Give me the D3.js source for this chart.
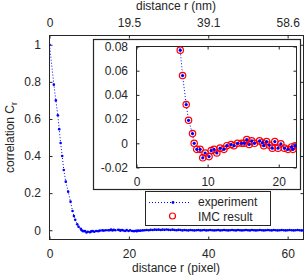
<!DOCTYPE html>
<html>
<head>
<meta charset="utf-8">
<script src="https://cdn.jsdelivr.net/npm/d3@7"></script>
<style>
body { margin: 0; background: #fff; }
svg { font-family: "Liberation Sans", Arial, Helvetica, sans-serif; }
</style>
</head>
<body>
<div id="chart"></div>
<script>
// experiment: correlation vs distance (pixel)
const expR = [0, 1.1, 1.6, 2.1, 2.45, 2.8, 3.2, 3.6, 4.1, 4.7, 5.3, 5.8,
  6.15, 6.48, 6.99, 7.32, 7.88, 8.11, 8.48, 8.95, 9.32, 9.65, 10.2, 10.5, 10.9, 11.3,
  11.75, 12.3, 12.7, 13.3, 13.7, 14.2, 14.8, 15.15, 15.5, 15.85, 16.2, 16.6, 17.3, 17.7,
  17.9, 18.3, 18.65, 19.1, 19.45, 19.9, 20.3, 20.8, 21.3, 21.8, 22.0, 22.3, 22.7,
  23, 23.5, 24, 24.5, 25, 25.5, 26, 26.5, 27, 27.5, 28, 28.5, 29, 29.5, 30, 30.5,
  31, 31.5, 32, 32.5, 33, 33.5, 34, 34.5, 35, 35.5, 36, 36.5, 37, 37.5, 38, 38.5,
  39, 39.5, 40, 40.5, 41, 41.5, 42, 42.5, 43, 43.5, 44, 44.5, 45, 45.5, 46, 46.5,
  47, 47.5, 48, 48.5, 49, 49.5, 50, 50.5, 51, 51.5, 52, 52.5, 53, 53.5, 54, 54.5,
  55, 55.5, 56, 56.5, 57, 57.5, 58, 58.5, 59, 59.5, 60, 60.5, 61, 61.5, 62, 62.5,
  63, 63.5, 64];
const expC = [1.0, 0.785, 0.70, 0.62, 0.545, 0.47, 0.40, 0.325, 0.262, 0.208, 0.154, 0.104,
  0.077, 0.056, 0.032, 0.019, 0.008, 0.000, -0.005, -0.005, -0.012, -0.008, -0.011, -0.006, -0.005, -0.008,
  -0.004, -0.005, -0.002, -0.001, -0.002, 0.000, 0.000, 0.000, 0.003, -0.001, 0.002, 0.000, 0.002, 0.0005,
  -0.002, 0.0015, -0.0015, -0.004, 0.0015, -0.004, -0.0005, -0.004, -0.005, -0.003, -0.005, -0.002, -0.003,
  -0.002, -0.001, 0.000, 0.001, 0.000, 0.002, 0.001, 0.003, 0.002, 0.003, 0.001, 0.003, 0.002, 0.004, 0.002, 0.001,
  0.003, 0.001, 0.000, 0.002, 0.001, -0.001, 0.001, 0.000, -0.001, 0.001, 0.000, -0.001, 0.000, 0.001, -0.001, 0.000,
  0.001, -0.001, 0.000, 0.001, 0.000, -0.001, 0.000, 0.001, -0.001, 0.000, 0.001, 0.000, -0.001, 0.000, 0.001, 0.000,
  -0.001, 0.001, 0.000, -0.001, 0.000, 0.001, 0.000, -0.001, 0.001, 0.000, -0.001, 0.000, 0.001, 0.000, -0.001, 0.000,
  0.001, 0.000, -0.001, 0.001, 0.000, -0.001, 0.000, 0.001, 0.000, -0.001, 0.000, 0.001, 0.000, -0.001, 0.000, 0.001,
  0.000, -0.001, 0.000];

// IMC result (inset only)
const imcR = [6.15, 6.48, 6.99, 7.32, 7.88, 8.11, 8.48, 8.95, 9.32, 9.65, 10.2, 10.5, 10.9, 11.3,
  11.75, 12.3, 12.7, 13.3, 13.7, 14.2, 14.8, 15.15, 15.5, 15.85, 16.2, 16.6, 17.3, 17.7,
  17.9, 18.3, 18.65, 19.1, 19.45, 19.9, 20.3, 20.8, 21.3, 21.8, 22.0, 22.3];
const imcC = [0.077, 0.056, 0.032, 0.019, 0.008, 0.000, -0.005, -0.005, -0.012, -0.008, -0.011, -0.006, -0.005, -0.008,
  -0.004, -0.005, -0.002, -0.001, -0.002, 0.000, 0.000, 0.000, 0.003, -0.001, 0.002, 0.000, 0.002, 0.0005,
  -0.002, 0.0015, -0.0015, -0.004, 0.0015, -0.004, -0.0005, -0.004, -0.005, -0.003, -0.005, -0.002];

const xTicks = [0, 20, 40, 60];
const nmTickLabels = ["0", "19.5", "39.1", "58.6"];
const yTicks = [0, 0.2, 0.4, 0.6, 0.8, 1];
const insetXTicks = [0, 10, 20];
const insetYTicks = [-0.02, 0, 0.02, 0.04, 0.06, 0.08];
const legendLabels = ["experiment", "IMC result"];

const W = 307, H = 279;
const ink = "#262626";
const main = {left: 49.5, right: 303.5, top: 35.5, bottom: 239.5};
const inset = {left: 136.5, right: 296.5, top: 46.5, bottom: 167.5};

const svg = d3.select("#chart").append("svg")
    .attr("width", W)
    .attr("height", H);

const x = d3.scaleLinear().domain([0, 64]).range([main.left, main.right]);
const y = d3.scaleLinear().domain([-0.05, 1.05]).range([main.bottom, main.top]);
const xi = d3.scaleLinear().domain([0, 22.5]).range([inset.left, inset.right]);
const yi = d3.scaleLinear().domain([-0.02, 0.08]).range([inset.bottom, inset.top]);

function styleAxis(g) {
    g.select(".domain").remove();
    g.attr("font-family", null).attr("font-size", null);
    g.selectAll(".tick line").attr("stroke", ink);
    g.selectAll(".tick text").attr("fill", ink).attr("font-size", 12);
}

// clip paths
const defs = svg.append("defs");
defs.append("clipPath").attr("id", "clipMain")
    .append("rect")
    .attr("x", main.left).attr("y", main.top)
    .attr("width", main.right - main.left).attr("height", main.bottom - main.top);
defs.append("clipPath").attr("id", "clipInset")
    .append("rect")
    .attr("x", inset.left).attr("y", inset.top)
    .attr("width", inset.right - inset.left).attr("height", inset.bottom - inset.top);

// ---- main axes ----
svg.append("g")
    .attr("transform", "translate(0," + main.bottom + ")")
    .call(d3.axisBottom(x).tickValues(xTicks).tickSize(-3).tickPadding(9.5).tickFormat(String))
    .call(styleAxis);
svg.append("g")
    .attr("transform", "translate(0," + main.top + ")")
    .call(d3.axisTop(x).tickValues(xTicks).tickSize(-3).tickPadding(8.5)
        .tickFormat((d, i) => nmTickLabels[i]))
    .call(styleAxis);
svg.append("g")
    .attr("transform", "translate(" + main.left + ",0)")
    .call(d3.axisLeft(y).tickValues(yTicks).tickSize(-3).tickPadding(8.5).tickFormat(String))
    .call(styleAxis);
svg.append("g")
    .attr("transform", "translate(" + main.right + ",0)")
    .call(d3.axisRight(y).tickValues(yTicks).tickSize(-3).tickFormat(""))
    .call(styleAxis);

svg.append("rect")
    .attr("x", main.left).attr("y", main.top)
    .attr("width", main.right - main.left).attr("height", main.bottom - main.top)
    .attr("fill", "none").attr("stroke", ink);

// axis titles
svg.append("text")
    .attr("x", 176).attr("y", 10)
    .attr("text-anchor", "middle").attr("font-size", 12).attr("fill", ink)
    .text("distance r (nm)");
svg.append("text")
    .attr("x", 176).attr("y", 272)
    .attr("text-anchor", "middle").attr("font-size", 12).attr("fill", ink)
    .text("distance r (pixel)");
const yLab = svg.append("text")
    .attr("transform", "translate(13.5," + ((main.top + main.bottom) / 2) + ") rotate(-90)")
    .attr("text-anchor", "middle").attr("font-size", 12).attr("fill", ink);
yLab.append("tspan").text("correlation C");
yLab.append("tspan").attr("font-size", 9).attr("dy", 3).text("r");

// main data
const mainLine = d3.line()
    .x((d, i) => x(expR[i]))
    .y((d, i) => y(expC[i]));
const gMain = svg.append("g").attr("clip-path", "url(#clipMain)");
gMain.append("path")
    .datum(expC)
    .attr("d", mainLine)
    .attr("fill", "none").attr("stroke", "#0000ff")
    .attr("stroke-width", 1).attr("stroke-dasharray", "1,2");
gMain.selectAll("circle")
    .data(expC)
    .enter().append("circle")
    .attr("cx", (d, i) => x(expR[i]))
    .attr("cy", d => y(d))
    .attr("r", 1.3)
    .attr("fill", "#0000ff");

// ---- inset ----
svg.append("rect")
    .attr("x", 93.5).attr("y", 39.5)
    .attr("width", 207).attr("height", 150)
    .attr("fill", "#fff").attr("stroke", ink).attr("stroke-width", 1.2);

svg.append("g")
    .attr("transform", "translate(0," + inset.bottom + ")")
    .call(d3.axisBottom(xi).tickValues(insetXTicks).tickSize(-3).tickPadding(10).tickFormat(String))
    .call(styleAxis);
svg.append("g")
    .attr("transform", "translate(0," + inset.top + ")")
    .call(d3.axisTop(xi).tickValues(insetXTicks).tickSize(-3).tickFormat(""))
    .call(styleAxis);
svg.append("g")
    .attr("transform", "translate(" + inset.left + ",0)")
    .call(d3.axisLeft(yi).tickValues(insetYTicks).tickSize(-3).tickPadding(8.5).tickFormat(String))
    .call(styleAxis);
svg.append("g")
    .attr("transform", "translate(" + inset.right + ",0)")
    .call(d3.axisRight(yi).tickValues(insetYTicks).tickSize(-3).tickFormat(""))
    .call(styleAxis);
svg.append("rect")
    .attr("x", inset.left).attr("y", inset.top)
    .attr("width", inset.right - inset.left).attr("height", inset.bottom - inset.top)
    .attr("fill", "none").attr("stroke", ink);

const insetLine = d3.line()
    .x((d, i) => xi(expR[i]))
    .y((d, i) => yi(expC[i]));
const gIn = svg.append("g").attr("clip-path", "url(#clipInset)");
gIn.append("path")
    .datum(expC)
    .attr("d", insetLine)
    .attr("fill", "none").attr("stroke", "#0000ff")
    .attr("stroke-width", 1).attr("stroke-dasharray", "1,2");
gIn.selectAll("circle.imc")
    .data(imcC)
    .enter().append("circle")
    .attr("class", "imc")
    .attr("cx", (d, i) => xi(imcR[i]))
    .attr("cy", d => yi(d))
    .attr("r", 3.2)
    .attr("fill", "none").attr("stroke", "#ff0000").attr("stroke-width", 1.2);
gIn.selectAll("circle.exp")
    .data(expC)
    .enter().append("circle")
    .attr("class", "exp")
    .attr("cx", (d, i) => xi(expR[i]))
    .attr("cy", d => yi(d))
    .attr("r", 1.6)
    .attr("fill", "#0000ff");

// ---- legend ----
const lg = svg.append("g");
lg.append("rect")
    .attr("x", 145.5).attr("y", 191.5)
    .attr("width", 125).attr("height", 34)
    .attr("fill", "#fff").attr("stroke", ink);
lg.append("line")
    .attr("x1", 149).attr("x2", 191).attr("y1", 202.5).attr("y2", 202.5)
    .attr("stroke", "#0000ff").attr("stroke-dasharray", "1,2");
lg.append("circle")
    .attr("cx", 173).attr("cy", 202.5).attr("r", 1.4).attr("fill", "#0000ff");
lg.append("circle")
    .attr("cx", 172.5).attr("cy", 216).attr("r", 3)
    .attr("fill", "none").attr("stroke", "#ff0000").attr("stroke-width", 1.2);
lg.selectAll("text")
    .data(legendLabels)
    .enter().append("text")
    .attr("x", 198)
    .attr("y", (d, i) => 206 + i * 15)
    .attr("font-size", 12).attr("fill", ink)
    .text(d => d);
</script>
</body>
</html>
